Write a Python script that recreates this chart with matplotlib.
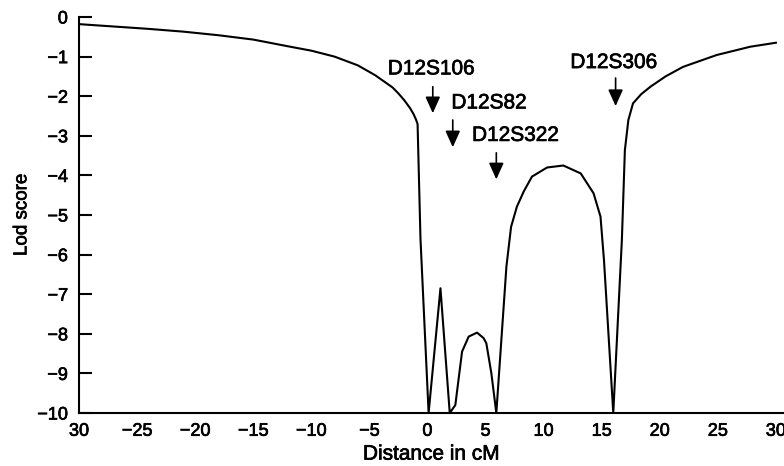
import matplotlib
matplotlib.use("Agg")
import matplotlib.pyplot as plt
import matplotlib.patheffects as pe

plt.rcParams['font.family'] = ['Liberation Sans', 'DejaVu Sans']

# lod score curve (distance in cM, lod)
dist = [-30, -27, -24, -21, -18, -15, -12, -10, -8, -6, -4.5, -3, -2.5, -2, -1.5, -1.2, -1, -0.85,
        -0.6, 0.1, 1.12, 1.92, 2.4, 2.98, 3.55, 4.27, 4.84, 5.07, 5.5, 5.93,
        6.8, 7.2, 7.7, 8.3, 9.0, 10.3, 11.7, 13.2, 14.3, 14.9, 15.2, 16.0,
        16.74, 17.0, 17.3, 17.7, 18.4, 19.2, 20.5, 22.0, 24.9, 27.8, 30]
lod = [-0.18, -0.24, -0.30, -0.37, -0.46, -0.57, -0.74, -0.85, -1.0, -1.22, -1.47, -1.78, -1.93, -2.1, -2.3, -2.45, -2.58, -2.7,
       -5.6, -10, -6.85, -10, -9.8, -8.45, -8.07, -7.97, -8.11, -8.24, -8.99, -10,
       -6.3, -5.3, -4.79, -4.4, -4.03, -3.8, -3.75, -3.95, -4.45, -5.04, -6.14, -10,
       -5.63, -3.36, -2.6, -2.18, -1.95, -1.76, -1.5, -1.26, -0.96, -0.75, -0.65]

markers = ['D12S106', 'D12S82', 'D12S322', 'D12S306']
marker_pos = [0.46, 2.18, 5.93, 16.2]

xticks = [-30, -25, -20, -15, -10, -5, 0, 5, 10, 15, 20, 25, 30]
xticklabels = ['30', '\u221225', '\u221220', '\u221215', '\u221210', '\u22125', '0',
               '5', '10', '15', '20', '25', '30']
yticks = list(range(0, -11, -1))

heavy = [pe.withStroke(linewidth=0.5, foreground='black')]

fig = plt.figure(figsize=(7.84, 4.66), dpi=100)
ax = fig.add_axes([0.1008, 0.1137, 0.8992, 0.8498])

ax.plot(dist, lod, color='black', lw=1.5)

# marker labels: text position (x, y, ha) and arrow (top, bottom)
text_layout = [(0.34, -1.31, 'center'), (2.06, -2.17, 'left'),
               (3.84, -2.99, 'left'), (12.3, -1.15, 'left')]
arrow_ys = [(-1.76, -2.43), (-2.60, -3.29), (-3.43, -4.10), (-1.54, -2.25)]

for name, xm, (tx, ty, ha), (y0, y1) in zip(markers, marker_pos, text_layout, arrow_ys):
    ax.text(tx, ty, name, ha=ha, va='center', fontsize=15, path_effects=heavy)
    ax.annotate('', xy=(xm, y1), xytext=(xm, y0),
                arrowprops=dict(arrowstyle='-|>,head_width=0.45,head_length=1.0',
                                color='black', lw=1.2, shrinkA=0, shrinkB=0))

ax.set_xlim(-30, 30.7)
ax.set_ylim(-10, 0)
ax.set_xticks(xticks)
ax.set_xticklabels(xticklabels)
ax.set_yticks(yticks)
ax.set_yticklabels([str(v).replace('-', '\u2212') for v in yticks])
for lbl in ax.get_xticklabels() + ax.get_yticklabels():
    lbl.set_path_effects(heavy)

ax.spines['top'].set_visible(False)
ax.spines['right'].set_visible(False)
ax.spines['left'].set_linewidth(1.5)
ax.spines['bottom'].set_linewidth(1.5)
ax.tick_params(axis='y', direction='in', length=9, width=1.5, pad=8, labelsize=13)
ax.tick_params(axis='x', length=0, pad=7, labelsize=13)

ax.set_xlabel('Distance in cM', fontsize=15, labelpad=3.5, path_effects=heavy)
ax.set_ylabel('Lod score', fontsize=13.5, labelpad=5, path_effects=heavy)

fig.savefig('out.png', dpi=100)
